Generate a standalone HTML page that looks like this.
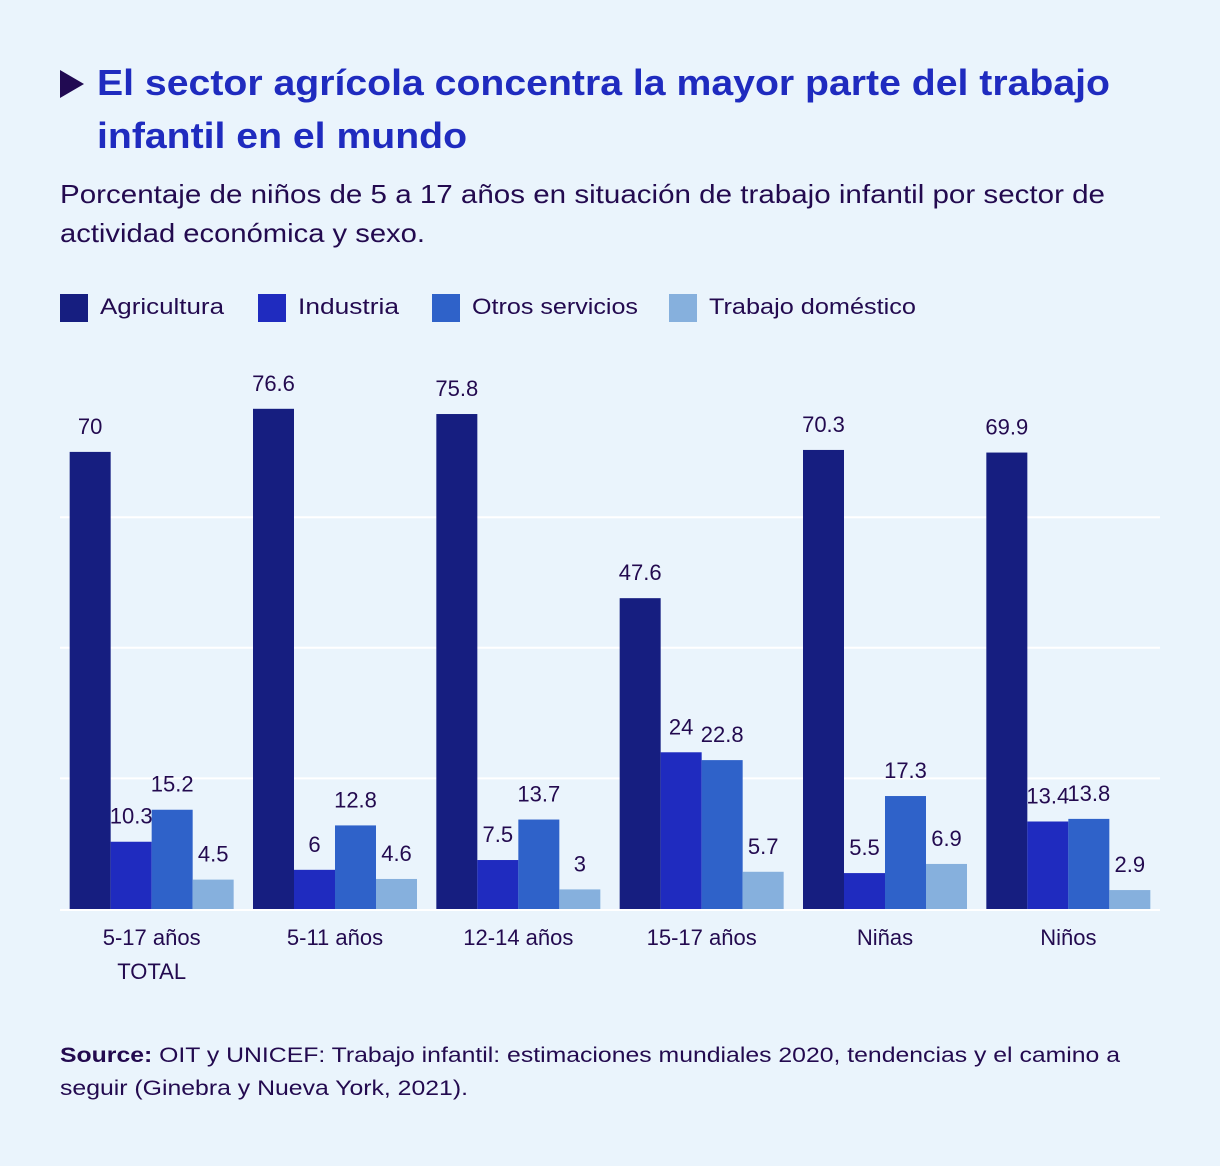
<!DOCTYPE html>
<html><head><meta charset="utf-8">
<style>
html,body{margin:0;padding:0;background:#eaf4fc;}
svg{display:block;font-family:"Liberation Sans","DejaVu Sans",sans-serif;}
</style></head>
<body>
<svg id="chart" width="1220" height="1166" viewBox="0 0 1220 1166" xmlns="http://www.w3.org/2000/svg">
<rect width="1220" height="1166" fill="#eaf4fc"/>
<polygon points="60,70 84,84 60,98" fill="#210a52"/>
<text x="97" y="95" font-size="36" font-weight="bold" fill="#1f2bbf" textLength="1013" lengthAdjust="spacingAndGlyphs">El sector agrícola concentra la mayor parte del trabajo</text>
<text x="97" y="148" font-size="36" font-weight="bold" fill="#1f2bbf" textLength="370" lengthAdjust="spacingAndGlyphs">infantil en el mundo</text>
<text x="60" y="203" font-size="26" fill="#230a4f" textLength="1045" lengthAdjust="spacingAndGlyphs">Porcentaje de niños de 5 a 17 años en situación de trabajo infantil por sector de</text>
<text x="60" y="242" font-size="26" fill="#230a4f" textLength="365" lengthAdjust="spacingAndGlyphs">actividad económica y sexo.</text>
<g id="legend"></g>
<g id="grid"></g>
<g id="bars"></g>
<g id="xlabels"></g>
<text x="60" y="1062" font-size="21" fill="#230a4f" textLength="1060" lengthAdjust="spacingAndGlyphs"><tspan font-weight="bold">Source:</tspan> OIT y UNICEF: Trabajo infantil: estimaciones mundiales 2020, tendencias y el camino a</text>
<text x="60" y="1095" font-size="21" fill="#230a4f" textLength="408" lengthAdjust="spacingAndGlyphs">seguir (Ginebra y Nueva York, 2021).</text>
</svg>
<script>
const categories = [["5-17 años","TOTAL"],["5-11 años"],["12-14 años"],["15-17 años"],["Niñas"],["Niños"]];
const seriesNames = ["Agricultura","Industria","Otros servicios","Trabajo doméstico"];
const agricultura = [70,76.6,75.8,47.6,70.3,69.9];
const industria = [10.3,6,7.5,24,5.5,13.4];
const otros = [15.2,12.8,13.7,22.8,17.3,13.8];
const domestico = [4.5,4.6,3,5.7,6.9,2.9];
const gridValues = [20,40,60];

const series = [agricultura,industria,otros,domestico];
const colors = ["#161e80","#1f2bbf","#2f62c9","#86b0dd"];
const NS = "http://www.w3.org/2000/svg";
const x0 = 60, x1 = 1160, baseY = 909, pxPerUnit = 6.53;
const groupW = (x1 - x0) / categories.length, barW = 41;
const y = v => baseY - v * pxPerUnit;
function mk(tag, attrs, parent){const e=document.createElementNS(NS,tag);for(const k in attrs)e.setAttribute(k,attrs[k]);parent.appendChild(e);return e;}

const grid = document.getElementById('grid');
gridValues.forEach(v=>{
  const l = mk('line',{x1:x0,x2:x1,y1:y(v),y2:y(v),stroke:'#ffffff','stroke-width':2},grid);
  
  
});
const bl = mk('line',{x1:x0,x2:x1,y1:baseY+1,y2:baseY+1,stroke:'#ffffff','stroke-width':2},grid);



const bars = document.getElementById('bars');
categories.forEach((c,i)=>{
  const gx = x0 + i*groupW + (groupW - 4*barW)/2;
  series.forEach((s,j)=>{
    const bx = gx + j*barW, v = s[i];
    const r = mk('rect',{x:bx,y:y(v),width:barW,height:v*pxPerUnit,fill:colors[j]},bars);
    
    
    const t = mk('text',{x:bx+barW/2,y:y(v)-18,'text-anchor':'middle','font-size':22,fill:'#230a4f'},bars);
    t.textContent = String(v);
    
    
  });
  const xl = document.getElementById('xlabels');
  c.forEach((line,k)=>{
    const t = mk('text',{x:gx+2*barW,y:945+k*34,'text-anchor':'middle','font-size':22,fill:'#230a4f'},xl);
    t.textContent = line;
    
    
  });
});

const legend = document.getElementById('legend');
const legX = [60,258,432,669];
const legLen = [124,101,166,207];
seriesNames.forEach((n,j)=>{
  const r = mk('rect',{x:legX[j],y:294,width:28,height:28,fill:colors[j]},legend);
  
  
  const t = mk('text',{x:legX[j]+40,y:314,'font-size':22,fill:'#230a4f',textLength:legLen[j],lengthAdjust:'spacingAndGlyphs'},legend);
  t.textContent = n;
  
  
});
</script>
</body></html>
